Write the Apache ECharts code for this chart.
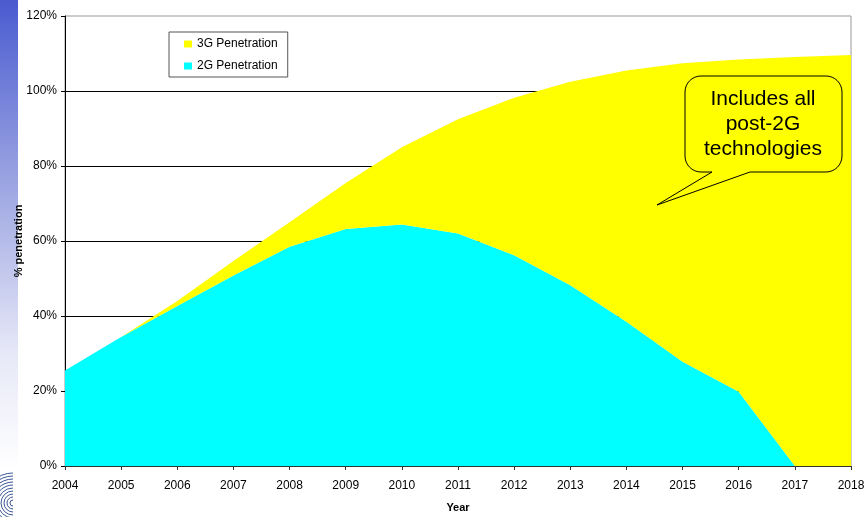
<!DOCTYPE html>
<html>
<head>
<meta charset="utf-8">
<script src="https://cdn.jsdelivr.net/npm/echarts@6/dist/echarts.min.js"></script>
<style>
  html, body { margin: 0; padding: 0; background: #fff; }
  #chart { width: 867px; height: 517px; }
</style>
</head>
<body>
<div id="chart"></div>
<script>
// Mobile penetration forecast, stacked: 2G at the bottom, 3G (all post-2G) on top
const years = ['2004','2005','2006','2007','2008','2009','2010','2011','2012','2013','2014','2015','2016','2017','2018'];
const penetration2G = [25.5, 34.4, 42.7, 50.8, 58.5, 63.2, 64.4, 62.0, 56.2, 48.2, 38.5, 27.8, 19.8, 0, 0];
const penetration3G = [0, 0, 1.3, 3.9, 6.5, 12.3, 20.6, 30.5, 42.0, 54.3, 67.0, 79.6, 88.6, 109.1, 109.6];
const yTicks = { min: 0, max: 120, interval: 20 };

const FONT = "'Liberation Sans', Arial, Helvetica, sans-serif";
const chart = echarts.init(document.getElementById('chart'), null, { renderer: 'canvas' });

// concentric arcs of the small logo in the lower-left corner
const logoArcs = [];
for (let r = 3; r <= 30; r += 3) {
  logoArcs.push({
    type: 'arc',
    shape: { cx: 13, cy: 503, r: r, startAngle: Math.PI * 0.5, endAngle: Math.PI * 1.5, clockwise: true },
    style: { stroke: '#3a5596', lineWidth: 1, fill: null },
    silent: true
  });
}

// outline of the speech bubble: rounded box with a tail leaving its bottom edge
function bubblePoints(x0, y0, x1, y1, r, tailRight, tailTip, tailLeft) {
  const pts = [];
  const corner = (cx, cy, a0, a1) => {
    const n = 8;
    for (let i = 0; i <= n; i++) {
      const a = a0 + (a1 - a0) * i / n;
      pts.push([cx + r * Math.cos(a), cy + r * Math.sin(a)]);
    }
  };
  corner(x1 - r, y0 + r, -Math.PI / 2, 0);          // top-right
  corner(x1 - r, y1 - r, 0, Math.PI / 2);           // bottom-right
  pts.push([tailRight, y1], tailTip, [tailLeft, y1]);
  corner(x0 + r, y1 - r, Math.PI / 2, Math.PI);     // bottom-left
  corner(x0 + r, y0 + r, Math.PI, Math.PI * 1.5);   // top-left
  return pts;
}

chart.setOption({
  animation: false,
  backgroundColor: '#fff',
  textStyle: { fontFamily: FONT },
  grid: {
    left: 65, right: 16, top: 16, bottom: 51,
    outerBoundsMode: 'none',
    containLabel: false,
    show: true, borderColor: '#999', borderWidth: 1, backgroundColor: 'transparent'
  },
  legend: {
    data: ['3G Penetration', '2G Penetration'],
    orient: 'vertical',
    left: 169, top: 32,
    padding: [6, 10, 5, 15],
    itemGap: 10,
    itemWidth: 8, itemHeight: 7,
    icon: 'rect',
    backgroundColor: '#fff',
    borderColor: '#555', borderWidth: 1, borderRadius: 0,
    textStyle: { fontSize: 12, color: '#000', fontFamily: FONT }
  },
  xAxis: {
    type: 'category',
    data: years,
    boundaryGap: false,
    name: 'Year',
    nameLocation: 'middle',
    nameGap: 36,
    nameMoveOverlap: false,
    nameTextStyle: { fontSize: 11, fontWeight: 'bold', color: '#000', fontFamily: FONT },
    axisLine: { lineStyle: { color: '#333', width: 1 } },
    axisTick: { show: true, length: 4, inside: false, lineStyle: { color: '#333' } },
    axisLabel: { fontSize: 12, color: '#000', margin: 14, fontFamily: FONT },
    splitLine: { show: false }
  },
  yAxis: {
    type: 'value',
    min: yTicks.min, max: yTicks.max, interval: yTicks.interval,
    name: '% penetration',
    nameLocation: 'middle',
    nameGap: 41,
    nameMoveOverlap: false,
    nameTextStyle: { fontSize: 11, fontWeight: 'bold', color: '#000', fontFamily: FONT },
    axisLine: { show: true, lineStyle: { color: '#000', width: 1 } },
    axisTick: { show: true, length: 4, lineStyle: { color: '#000' } },
    axisLabel: { fontSize: 12, color: '#000', margin: 8, formatter: '{value}%', fontFamily: FONT },
    splitLine: { show: true, showMinLine: false, showMaxLine: false, lineStyle: { color: '#000', width: 1 } }
  },
  series: [
    {
      name: '2G Penetration',
      type: 'line',
      stack: 'total',
      data: penetration2G,
      symbol: 'none',
      lineStyle: { width: 0 },
      areaStyle: { color: '#00FFFF', opacity: 1 },
      itemStyle: { color: '#00FFFF' }
    },
    {
      name: '3G Penetration',
      type: 'line',
      stack: 'total',
      data: penetration3G,
      symbol: 'none',
      lineStyle: { width: 0 },
      areaStyle: { color: '#FFFF00', opacity: 1 },
      itemStyle: { color: '#FFFF00' }
    }
  ],
  graphic: [
    // blue side band on the left edge
    {
      type: 'rect',
      shape: { x: 0, y: 0, width: 18, height: 470 },
      style: {
        fill: new echarts.graphic.LinearGradient(0, 0, 0, 1, [
          { offset: 0, color: '#4a5bd0' },
          { offset: 0.4, color: '#9ea7e2' },
          { offset: 0.75, color: '#e6e8f7' },
          { offset: 1, color: '#ffffff' }
        ])
      },
      silent: true,
      z: -10
    },
    ...logoArcs,
    // speech-bubble callout
    {
      type: 'polygon',
      shape: { points: bubblePoints(685, 76, 842, 172, 16, 750, [657, 205], 712) },
      style: { fill: '#FFFF00', stroke: '#000', lineWidth: 1 },
      silent: true,
      z: 100
    },
    {
      type: 'text',
      x: 763, y: 124,
      style: {
        text: 'Includes all\npost-2G\ntechnologies',
        fontSize: 21,
        lineHeight: 25,
        fontFamily: FONT,
        fill: '#000',
        align: 'center',
        verticalAlign: 'middle'
      },
      silent: true,
      z: 101
    }
  ]
});
</script>
</body>
</html>
